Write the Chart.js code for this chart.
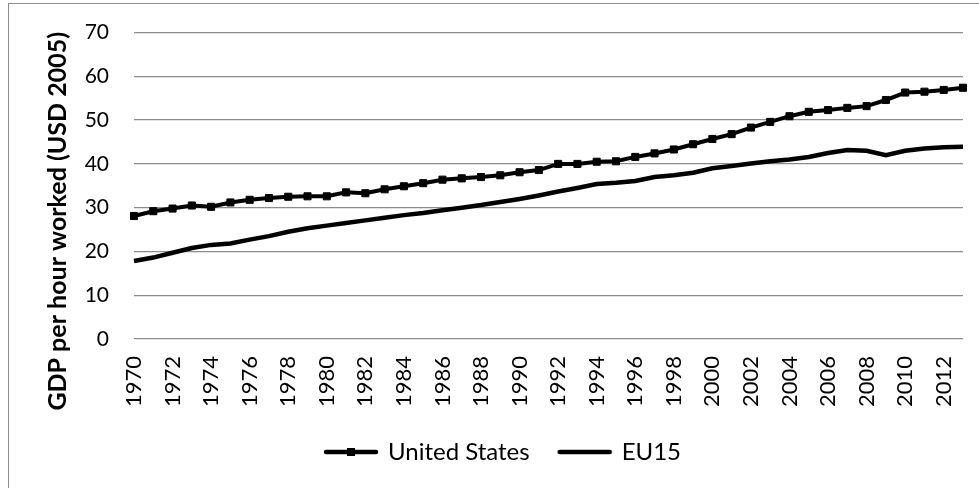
<!DOCTYPE html>
<html>
<head>
<meta charset="utf-8">
<script src="https://cdn.jsdelivr.net/npm/chart.js@4/dist/chart.umd.min.js"></script>
<style>
  html, body { margin: 0; padding: 0; background: #fff; }
  #wrap { position: relative; width: 979px; height: 488px; overflow: hidden; }
  #frame { position: absolute; left: 8px; top: 3px; width: 1200px; height: 1200px; border: 1px solid #8c8c8c; box-sizing: border-box; pointer-events: none; }
  canvas { position: absolute; left: 0; top: 0; }
</style>
</head>
<body>
<div id="wrap">
  <canvas id="chart" width="979" height="488"></canvas>
  <div id="frame"></div>
</div>
<script>
// ─── DATA ───────────────────────────────────────────
const years = [];
for (let y = 1970; y <= 2013; y++) years.push(String(y));

const usValues = [
    28.1, 29.2, 29.8, 30.5, 30.2, 31.2, 31.8, 32.2, 32.5, 32.6,
    32.6, 33.5, 33.3, 34.2, 34.9, 35.6, 36.4, 36.7, 37.0, 37.4,
    38.1, 38.6, 40.0, 40.0, 40.5, 40.6, 41.6, 42.4, 43.3, 44.5,
    45.7, 46.8, 48.3, 49.6, 50.9, 51.9, 52.3, 52.8, 53.2, 54.6,
    56.3, 56.5, 56.9, 57.4
];

const euValues = [
    17.8, 18.6, 19.7, 20.8, 21.5, 21.8, 22.7, 23.5, 24.5, 25.3,
    25.9, 26.5, 27.1, 27.7, 28.3, 28.8, 29.4, 30.0, 30.6, 31.3,
    32.0, 32.8, 33.7, 34.5, 35.4, 35.7, 36.1, 37.0, 37.4, 38.0,
    39.0, 39.5, 40.1, 40.6, 41.0, 41.6, 42.5, 43.2, 43.0, 42.0,
    43.0, 43.5, 43.8, 43.9
];

const yTitle = 'GDP per hour worked (USD 2005)';
const FONT = 'Lato, "Open Sans", sans-serif';

// legend swatches (line, optionally with a square marker)
function swatch(withMarker) {
    const c = document.createElement('canvas');
    c.width = 56; c.height = 12;
    const g = c.getContext('2d');
    g.strokeStyle = '#000';
    g.lineWidth = 4.5;
    g.lineCap = 'round';
    g.beginPath();
    g.moveTo(3, 6); g.lineTo(53, 6);
    g.stroke();
    if (withMarker) {
        g.fillStyle = '#000';
        g.fillRect(24, 2, 8, 8);
    }
    return c;
}

// y axis title centred on plot + category labels (like Excel)
const yTitlePlugin = {
    id: 'yTitle',
    afterDraw(chart) {
        const { ctx, chartArea, scales } = chart;
        const cy = (chartArea.top + scales.x.bottom) / 2;
        ctx.save();
        ctx.translate(58, cy);
        ctx.rotate(-Math.PI / 2);
        ctx.font = `bold 25px ${FONT}`;
        ctx.fillStyle = '#000';
        ctx.textAlign = 'center';
        ctx.textBaseline = 'middle';
        ctx.fillText(yTitle, 0, 0);
        ctx.restore();
    }
};

new Chart(document.getElementById('chart'), {
    type: 'line',
    data: {
        labels: years,
        datasets: [
            {
                label: 'United States',
                data: usValues,
                borderColor: '#000',
                backgroundColor: '#000',
                borderWidth: 4,
                pointStyle: 'rect',
                pointRadius: 5,
                pointBorderWidth: 1,
                tension: 0
            },
            {
                label: 'EU15',
                data: euValues,
                borderColor: '#000',
                backgroundColor: '#000',
                borderWidth: 4.5,
                pointRadius: 0,
                tension: 0
            }
        ]
    },
    options: {
        responsive: false,
        animation: false,
        layout: { padding: { left: 44, right: 16, top: 25, bottom: 14 } },
        plugins: {
            tooltip: { enabled: false },
            legend: {
                position: 'bottom',
                labels: {
                    color: '#000',
                    font: { family: FONT, size: 24 },
                    usePointStyle: true,
                    pointStyleWidth: 50,
                    padding: 30,
                    generateLabels: (chart) => chart.data.datasets.map((ds, i) => ({
                        text: ds.label,
                        pointStyle: swatch(i === 0),
                        fillStyle: '#000',
                        strokeStyle: '#000',
                        lineWidth: 0,
                        datasetIndex: i
                    }))
                }
            }
        },
        scales: {
            x: {
                grid: { display: false, drawTicks: false },
                border: { display: false },
                afterFit: (s) => {
                    s.height = 71;
                    s.paddingLeft = 0;
                    s.paddingRight = 0;
                },
                ticks: {
                    color: '#000',
                    font: { family: FONT, size: 22 },
                    autoSkip: false,
                    minRotation: 90,
                    maxRotation: 90,
                    padding: 17,
                    callback: (v, i) => (i % 2 === 0 ? years[i] : '')
                }
            },
            y: {
                min: 0,
                max: 70,
                grid: {
                    color: '#8c8c8c',
                    lineWidth: 1.3,
                    drawTicks: true,
                    tickLength: 5,
                    tickColor: 'rgba(0,0,0,0)'
                },
                border: { display: false },
                afterFit: (s) => { s.width = 90; },
                ticks: {
                    stepSize: 10,
                    color: '#000',
                    font: { family: FONT, size: 21 },
                    padding: 20
                }
            }
        }
    },
    plugins: [yTitlePlugin]
});
</script>
</body>
</html>
